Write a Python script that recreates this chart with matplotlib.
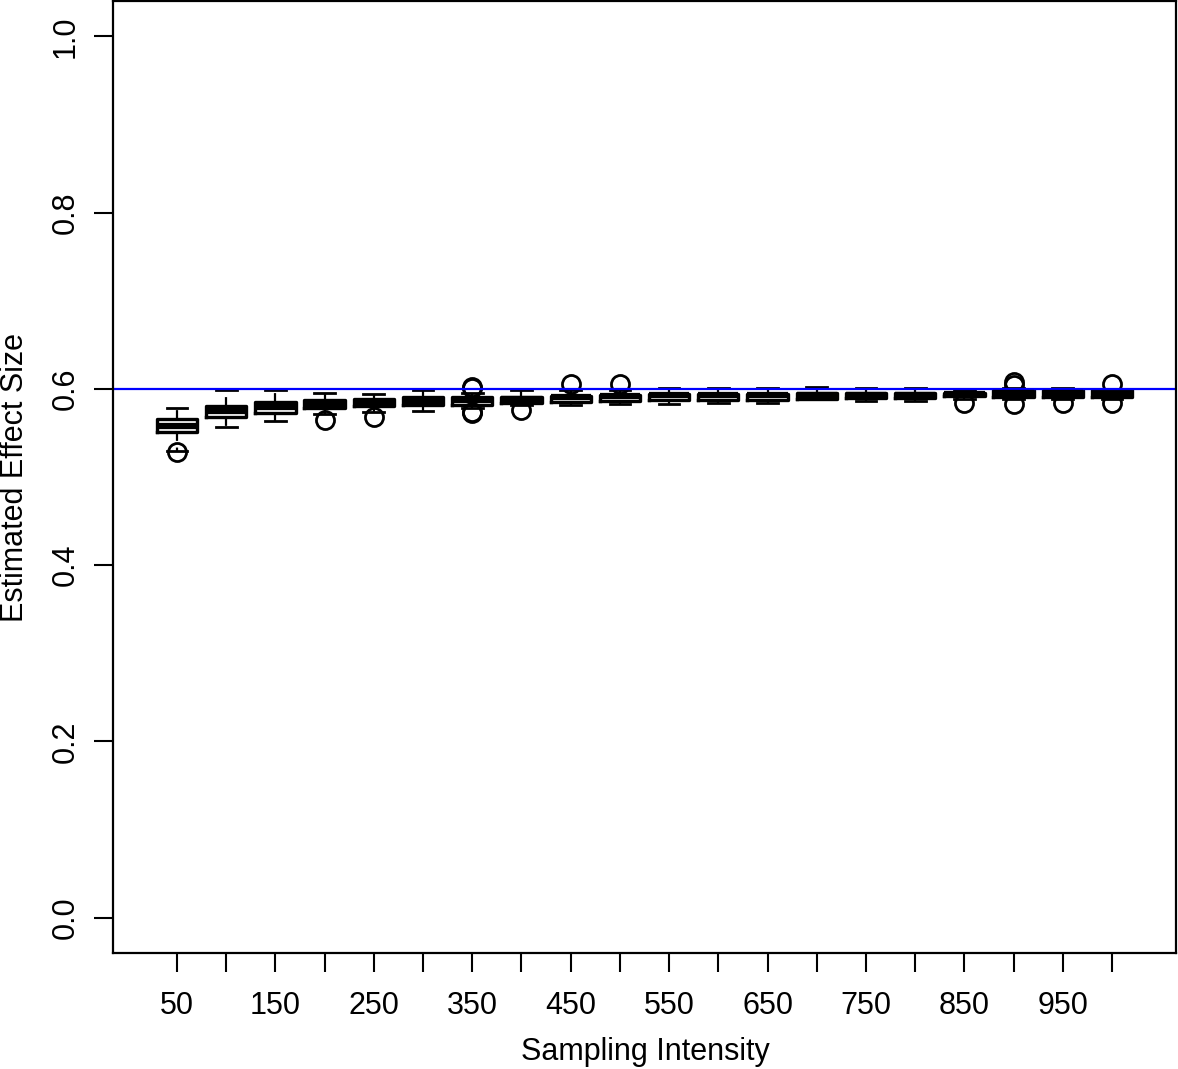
import matplotlib
matplotlib.use("Agg")
import matplotlib.pyplot as plt

plt.rcParams['font.family'] = ['Liberation Sans', 'DejaVu Sans']

categories = [50, 100, 150, 200, 250, 300, 350, 400, 450, 500,
              550, 600, 650, 700, 750, 800, 850, 900, 950, 1000]
whis_hi = [0.5784, 0.5983, 0.5990, 0.5954, 0.5946, 0.5990, 0.5954, 0.5990, 0.5990, 0.5990,
           0.6014, 0.6014, 0.6010, 0.6025, 0.6014, 0.6014, 0.5990, 0.6014, 0.6014, 0.5998]
q3 = [0.5657, 0.5810, 0.5852, 0.5878, 0.5889, 0.5908, 0.5908, 0.5912, 0.5920, 0.5928,
      0.5936, 0.5936, 0.5936, 0.5950, 0.5950, 0.5950, 0.5950, 0.5990, 0.5990, 0.5982]
medians = [0.5583, 0.5745, 0.5790, 0.5830, 0.5850, 0.5865, 0.5870, 0.5880, 0.5905, 0.5915,
           0.5925, 0.5930, 0.5930, 0.5930, 0.5935, 0.5935, 0.5940, 0.5950, 0.5950, 0.5945]
q1 = [0.5507, 0.5677, 0.5727, 0.5784, 0.5802, 0.5821, 0.5821, 0.5837, 0.5852, 0.5860,
      0.5868, 0.5876, 0.5876, 0.5890, 0.5899, 0.5899, 0.5917, 0.5907, 0.5907, 0.5907]
whis_lo = [0.5300, 0.5568, 0.5632, 0.5719, 0.5734, 0.5753, 0.5784, 0.5821, 0.5813, 0.5829,
           0.5829, 0.5840, 0.5840, 0.5880, 0.5859, 0.5859, 0.5886, 0.5886, 0.5886, 0.5886]
outliers = [[0.5280], [], [], [0.5643], [0.5682], [], [0.6014, 0.6020, 0.5740, 0.5727],
            [0.5757], [0.6055], [0.6055], [], [], [], [], [], [], [0.5840],
            [0.6074, 0.6040, 0.5832], [0.5840], [0.6055, 0.5840]]
true_effect = 0.6

stats = []
for i, c in enumerate(categories):
    stats.append(dict(whislo=whis_lo[i], q1=q1[i], med=medians[i], q3=q3[i],
                      whishi=whis_hi[i], fliers=outliers[i]))

fig = plt.figure(figsize=(11.78, 10.69), dpi=100)
ax = fig.add_axes([113 / 1178, 116 / 1069, (1176 - 113) / 1178, (953 - 1) / 1069])

positions = list(range(1, len(categories) + 1))
ax.bxp(stats, positions=positions, widths=0.82, showfliers=True,
       boxprops=dict(color='black', linewidth=2.4),
       medianprops=dict(color='black', linewidth=4.5, solid_capstyle='butt'),
       whiskerprops=dict(color='black', linewidth=1.6, linestyle=(0, (4, 3))),
       capprops=dict(color='black', linewidth=2.0),
       capwidths=0.42,
       flierprops=dict(marker='o', markerfacecolor='none', markeredgecolor='black',
                       markersize=13, markeredgewidth=2.0, linestyle='none'))

ax.axhline(true_effect, color='#0000ff', linewidth=1.6)

ax.set_xlim(-0.3, 21.3)
ax.set_ylim(-0.04, 1.04)

ax.set_xticks(positions)
ax.set_xticklabels([str(c) if i % 2 == 0 else '' for i, c in enumerate(categories)])
yt = [0.0, 0.2, 0.4, 0.6, 0.8, 1.0]
ax.set_yticks(yt)
ax.set_yticklabels([f"{v:.1f}" for v in yt], rotation=90, va='center')

ax.tick_params(axis='both', length=14, width=1.5, labelsize=22, direction='out')
ax.tick_params(axis='x', pad=13)
ax.tick_params(axis='y', pad=9)
for s in ax.spines.values():
    s.set_linewidth(1.6)

fig.text(645 / 1178, 1 - 1052 / 1069, 'Sampling Intensity', fontsize=22,
         ha='center', va='center')
fig.text(15 / 1178, 1 - 477 / 1069, 'Estimated Effect Size', fontsize=22,
         ha='center', va='center', rotation=90)

fig.savefig('out.png', dpi=100)
